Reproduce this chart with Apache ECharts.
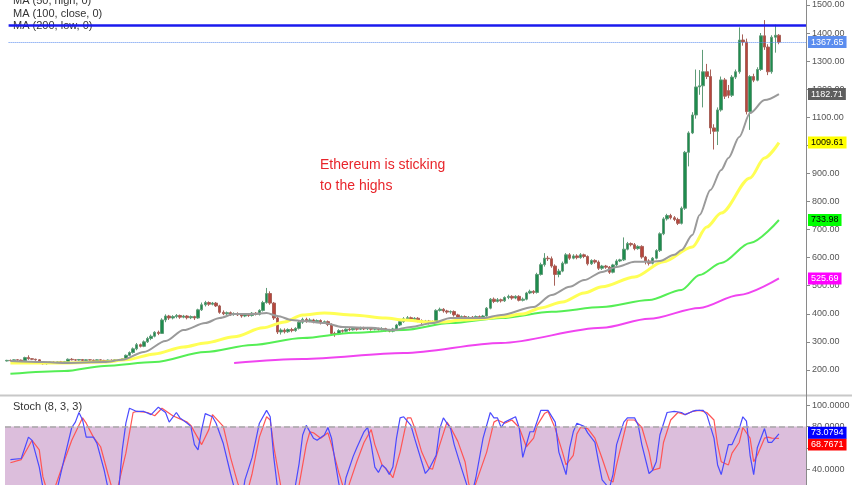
<!DOCTYPE html>
<html lang="en">
<head>
    <meta charset="UTF-8">
    <title>Ethereum is sticking to the highs</title>
    <script src="https://cdn.jsdelivr.net/npm/echarts@6/dist/echarts.min.js"></script>
    <style>html, body { margin: 0; padding: 0; background: #fff; }</style>
</head>
<body>
<div id="chart" style="width: 852px; height: 485px;"></div>
<script>
    // daily candles, [open, close, low, high]
    var candles = [
        [232,234,230,236],[234,233,231,237],[233,236,231,238],[236,235,233,238],[235,233,231,237],
        [233,244,232,247],[244,240,236,252],[240,238,235,242],[238,236,233,240],[236,229,226,238],
        [229,222,219,231],[222,226,219,229],[226,228,223,230],[228,226,224,231],[226,229,224,231],
        [229,227,225,232],[227,230,225,232],[230,238,228,241],[238,236,234,242],[236,235,232,238],
        [235,237,233,239],[237,234,232,239],[234,236,232,238],[236,235,233,238],[235,233,231,237],
        [233,236,231,238],[236,234,232,238],[234,232,230,236],[232,235,230,237],[235,233,231,237],
        [233,236,231,238],[236,234,232,238],[234,240,232,242],[240,252,238,255],[252,262,249,266],
        [262,275,258,280],[275,290,270,296],[290,284,280,294],[284,300,281,305],[300,312,296,318],
        [312,320,306,326],[320,334,316,338],[334,330,324,340],[330,378,328,384],[378,392,370,398],
        [392,385,378,396],[385,390,380,395],[390,394,384,399],[394,388,382,397],[388,392,384,396],
        [392,386,380,395],[386,390,381,394],[390,385,378,393],[385,414,382,418],[414,432,410,440],
        [432,440,426,446],[440,434,428,444],[434,438,430,442],[438,428,424,442],[428,405,400,432],
        [405,400,395,412],[400,404,396,408],[404,398,392,408],[398,401,393,405],[401,396,392,405],
        [396,392,386,400],[392,397,388,402],[397,394,389,400],[394,402,390,406],[402,398,394,406],
        [398,412,394,416],[412,440,408,446],[440,472,436,492],[472,438,432,480],[438,385,378,442],
        [385,335,328,390],[335,342,326,348],[342,336,330,348],[336,344,332,348],[344,340,334,350],
        [340,348,336,352],[348,370,344,374],[370,380,364,386],[380,374,368,386],[374,378,370,384],
        [378,372,366,382],[372,376,368,380],[376,368,362,380],[368,372,364,376],[372,362,356,376],
        [362,330,322,366],[330,328,318,336],[328,340,324,345],[340,338,332,344],[338,345,334,348],
        [345,343,338,350],[343,348,340,352],[348,345,340,352],[345,350,342,354],[350,346,342,354],
        [346,349,342,353],[349,345,340,352],[345,348,341,352],[348,344,340,350],[344,347,340,352],
        [347,342,336,350],[342,338,334,346],[338,346,334,350],[346,360,342,364],[360,372,356,376],
        [372,382,368,388],[382,386,376,392],[386,380,374,390],[380,384,376,388],[384,376,370,388],
        [376,370,364,380],[370,374,366,378],[374,368,362,378],[368,372,364,376],[372,412,370,416],
        [412,416,408,422],[416,410,404,420],[410,406,400,414],[406,408,400,412],[408,396,390,412],
        [396,386,380,400],[386,390,382,394],[390,384,378,394],[384,388,380,392],[388,385,380,392],
        [385,390,381,394],[390,386,382,394],[386,392,382,396],[392,420,390,424],[420,452,416,456],
        [452,444,438,458],[444,450,440,456],[450,446,440,454],[446,458,442,462],[458,462,452,468],
        [462,456,450,466],[456,462,452,466],[462,448,444,466],[448,452,444,458],[452,474,448,478],
        [474,480,470,486],[480,476,470,484],[476,540,472,546],[540,575,536,582],[575,598,568,616],
        [598,596,588,606],[596,570,564,604],[570,540,500,576],[540,552,530,560],[552,580,548,586],
        [580,610,576,616],[610,598,592,616],[598,606,594,612],[606,600,594,612],[600,610,596,616],
        [610,604,598,614],[604,578,572,608],[578,590,574,594],[590,584,578,594],[584,562,556,590],
        [562,570,556,574],[570,566,560,574],[566,548,542,570],[548,574,544,578],[574,588,570,594],
        [588,592,584,596],[592,630,588,672],[630,650,626,656],[650,646,640,654],[646,632,626,652],
        [632,640,628,644],[640,602,596,644],[602,588,576,606],[588,580,572,594],[580,598,576,602],
        [598,625,594,630],[625,685,620,690],[685,738,680,744],[738,750,732,756],[750,742,736,756],
        [742,736,730,748],[736,722,716,742],[722,776,718,782],[776,975,770,980],[975,1044,925,1050],
        [1044,1108,1040,1118],[1108,1208,1095,1270],[1208,1212,1180,1268],[1212,1262,1135,1340],[1262,1245,1236,1290],
        [1245,1062,1040,1270],[1062,1050,985,1075],[1050,1126,1001,1135],[1126,1233,1120,1245],[1233,1175,1165,1240],
        [1195,1178,1168,1215],[1178,1243,1172,1250],[1243,1262,1236,1270],[1262,1375,1255,1420],[1375,1368,1355,1395],
        [1368,1120,1110,1380],[1120,1245,1055,1250],[1245,1232,1225,1255],[1232,1270,1228,1278],[1270,1390,1265,1400],
        [1390,1350,1340,1446],[1350,1262,1250,1360],[1262,1385,1255,1392],[1385,1392,1330,1430],[1392,1367.65,1360,1396]
    ];
    var slotCount = 222;   // candles plus empty space on the right

    // moving averages, [candle index, value]
    var maGray = [[1,232],[10,228],[16,225],[27,228],[32,236],[38,264],[44,303],[49,342],[55,367],[59,385],
        [63,399],[68,399],[72,403],[75,392],[79,378],[82,374],[88,367],[93,353],[101,350],[107,342],
        [112,353],[118,367],[123,385],[132,385],[137,396],[146,424],[151,467],[156,496],[160,520],[165,549],
        [169,567],[174,585],[178,585],[181,588],[185,610],[187,627],[190,681],[192,752],[195,841],[198,912],
        [200,955],[203,1030],[206,1115],[210,1161],[214,1182.71]];
    var maYellow = [[1,225],[16,225],[27,228],[33,236],[41,257],[49,282],[55,296],[63,318],[71,350],[77,371],
        [82,396],[88,403],[96,396],[105,385],[110,378],[117,371],[121,371],[126,378],[132,382],[137,389],
        [143,399],[148,421],[154,442],[160,474],[165,496],[174,531],[182,585],[190,638],[194,709],[198,759],
        [206,884],[210,955],[214,1009.61]];
    var maGreen = [[1,186],[16,196],[27,214],[41,228],[55,264],[68,289],[82,314],[96,332],[110,342],[123,367],
        [137,385],[151,407],[165,424],[178,449],[187,485],[192,538],[198,581],[206,652],[214,733.98]];
    var maMagenta = [[63,225],[82,239],[110,260],[137,296],[165,350],[178,382],[192,421],[203,467],[214,525.69]];

    var resistance = 1428;

    // stochastic (8, 3, 3)
    var stochK = [[1,49],[4,50],[6,70],[7,67],[9,42],[10,23],[12,8],[14,22],[16,51],[18,79],[19,84],[20,93],
        [21,86],[22,70],[24,70],[25,64],[27,39],[28,23],[30,8],[31,20],[32,58],[33,83],[34,97],[36,94],[38,94],
        [40,91],[42,98],[44,93],[45,84],[47,93],[48,88],[50,83],[51,80],[52,63],[53,58],[54,77],[55,92],[57,89],
        [58,83],[60,64],[62,36],[63,23],[65,8],[66,30],[68,51],[70,83],[72,95],[73,89],[74,51],[75,23],[77,5],
        [80,25],[81,45],[82,72],[83,81],[85,69],[86,67],[88,72],[89,79],[90,69],[91,47],[92,27],[93,10],[94,32],
        [96,52],[97,60],[99,75],[100,79],[101,63],[102,42],[103,37],[104,44],[105,41],[106,35],[107,42],[108,69],
        [109,88],[110,89],[112,81],[113,69],[115,47],[116,36],[117,40],[119,53],[120,78],[121,88],[123,78],[124,63],
        [126,41],[128,20],[129,18],[130,32],[132,69],[134,93],[135,88],[136,88],[137,79],[138,84],[141,89],[142,79],
        [143,51],[145,75],[146,75],[148,95],[150,95],[152,84],[153,56],[155,35],[156,60],[157,75],[158,83],[160,80],
        [161,74],[163,65],[164,47],[165,30],[167,22],[168,35],[169,63],[171,84],[172,88],[174,88],[175,81],[176,63],
        [178,36],[179,39],[180,47],[181,72],[183,93],[185,94],[187,93],[188,91],[190,94],[191,95],[193,95],[194,91],
        [196,69],[197,44],[198,35],[199,49],[200,63],[201,63],[203,78],[204,89],[205,85],[206,53],[207,35],[208,60],
        [210,78],[211,65],[212,65],[214,73.0794]];
    var stochD = [[1,46],[4,49],[7,67],[9,58],[10,33],[12,10],[15,39],[18,67],[21,88],[22,83],[24,70],[26,61],
        [28,36],[30,12],[33,55],[35,93],[36,94],[39,93],[41,90],[43,97],[46,90],[50,84],[51,81],[54,63],[56,77],
        [57,91],[60,80],[62,51],[64,27],[66,10],[68,36],[70,70],[72,89],[73,86],[74,61],[76,23],[78,8],[81,25],
        [83,63],[84,75],[85,74],[87,69],[89,74],[90,63],[92,37],[94,15],[95,27],[97,47],[99,65],[101,77],[102,63],
        [104,44],[106,37],[107,32],[109,56],[111,88],[112,88],[113,79],[115,56],[117,41],[118,40],[120,63],[122,84],
        [123,79],[125,66],[127,47],[128,27],[129,15],[130,27],[133,56],[135,84],[136,86],[138,83],[140,86],[142,79],
        [144,61],[146,69],[147,81],[149,92],[150,94],[152,78],[154,56],[155,44],[157,53],[158,73],[159,79],[161,78],
        [163,69],[165,50],[167,30],[168,28],[169,44],[171,72],[172,86],[174,86],[176,79],[178,56],[179,39],[181,41],
        [182,65],[184,86],[186,93],[188,91],[190,94],[192,95],[194,93],[196,86],[197,63],[198,47],[200,44],[201,55],
        [203,65],[204,79],[206,69],[207,47],[208,53],[210,69],[211,70],[212,69],[214,68.7671]];

    var slots = [];
    for (var i = 0; i < slotCount; i++) slots.push(String(i));
    var lastClose = candles[candles.length - 1][1];
    var last = function (arr) { return arr[arr.length - 1][1]; };
    var font = 'Liberation Sans, Arial, sans-serif';

    function sideLabel(value, bg, fg, digits, offsetY) {
        return {
            show: true, position: 'end', distance: 2,
            formatter: value.toFixed(digits),
            backgroundColor: bg, color: fg, fontSize: 9, fontFamily: font,
            padding: [2, 3, 1, 3], offset: [0, offsetY || 0]
        };
    }
    function endTag(value, bg, fg) {
        return {
            symbol: 'none', silent: true, animation: false,
            lineStyle: { color: 'rgba(0,0,0,0)' },
            data: [{ yAxis: value, label: sideLabel(value, bg, fg, 2) }]
        };
    }

    var chart = echarts.init(document.getElementById('chart'));
    chart.setOption({
        animation: false,
        backgroundColor: '#fff',
        textStyle: { fontFamily: font },
        grid: [
            { left: 5, right: 46, top: 0, bottom: 87, outerBoundsMode: 'none' },
            { left: 5, right: 46, top: 397, bottom: -5.6, outerBoundsMode: 'none' }
        ],
        xAxis: [
            { type: 'category', gridIndex: 0, data: slots, boundaryGap: true, show: false },
            { type: 'value', gridIndex: 0, min: -0.5, max: slotCount - 0.5, show: false },
            { type: 'value', gridIndex: 1, min: -0.5, max: slotCount - 0.5, show: false }
        ],
        yAxis: [
            {
                type: 'value', gridIndex: 0, position: 'right', min: 100, max: 1517.6, interval: 100,
                splitLine: { show: false },
                axisLine: { show: true, onZero: false, lineStyle: { color: '#8a8a8a' } },
                axisTick: { show: true, length: 4, lineStyle: { color: '#8a8a8a' } },
                axisLabel: {
                    color: '#555', fontSize: 9, margin: 6, showMinLabel: false, showMaxLabel: false,
                    formatter: function (v) { return v.toFixed(2); }
                }
            },
            {
                type: 'value', gridIndex: 1, position: 'right', min: 20, max: 107.5, interval: 20,
                splitLine: { show: false },
                axisLine: { show: true, onZero: false, lineStyle: { color: '#8a8a8a' } },
                axisTick: { show: true, length: 4, lineStyle: { color: '#8a8a8a' } },
                axisLabel: {
                    color: '#555', fontSize: 9, margin: 6, showMinLabel: false, showMaxLabel: false,
                    formatter: function (v) { return v.toFixed(4); }
                }
            }
        ],
        graphic: [
            { type: 'text', left: 13, top: -5, style: { text: 'MA (50, high, 0)', fontSize: 11, fill: '#333', fontFamily: font } },
            { type: 'text', left: 13, top: 8, style: { text: 'MA (100, close, 0)', fontSize: 11, fill: '#333', fontFamily: font } },
            { type: 'text', left: 13, top: 20, style: { text: 'MA (200, low, 0)', fontSize: 11, fill: '#333', fontFamily: font } },
            { type: 'text', left: 320, top: 155, style: {
                text: 'Ethereum is sticking\nto the highs', fontSize: 14, lineHeight: 21,
                fill: '#e8252b', fontFamily: font } },
            { type: 'line', shape: { x1: 0, y1: 395.5, x2: 852, y2: 395.5 }, style: { stroke: '#c8c8c8', lineWidth: 2 } },
            { type: 'text', left: 13, top: 401, style: { text: 'Stoch (8, 3, 3)', fontSize: 11, fill: '#333', fontFamily: font } }
        ],
        series: [
            {
                type: 'candlestick', xAxisIndex: 0, yAxisIndex: 0, data: candles, barWidth: 3,
                itemStyle: {
                    color: '#1e8c4e', color0: '#b8463c',
                    borderColor: '#5f9c78', borderColor0: '#a8625a', borderWidth: 1
                }
            },
            {
                type: 'line', name: 'ma200', xAxisIndex: 1, yAxisIndex: 0, data: maMagenta,
                showSymbol: false, smooth: 0.3, smoothMonotone: 'x',
                lineStyle: { color: '#f044f0', width: 2 },
                markLine: endTag(last(maMagenta), '#ff00ff', '#fff')
            },
            {
                type: 'line', name: 'ma100', xAxisIndex: 1, yAxisIndex: 0, data: maGreen,
                showSymbol: false, smooth: 0.3, smoothMonotone: 'x',
                lineStyle: { color: '#55ee55', width: 2 },
                markLine: endTag(last(maGreen), '#00ff00', '#000')
            },
            {
                type: 'line', name: 'ma50', xAxisIndex: 1, yAxisIndex: 0, data: maYellow,
                showSymbol: false, smooth: 0.3, smoothMonotone: 'x',
                lineStyle: { color: '#ffff55', width: 3 },
                markLine: endTag(last(maYellow), '#ffff00', '#000')
            },
            {
                type: 'line', name: 'ma20', xAxisIndex: 1, yAxisIndex: 0, data: maGray,
                showSymbol: false, smooth: 0.3, smoothMonotone: 'x',
                lineStyle: { color: '#9a9a9a', width: 2 },
                markLine: endTag(last(maGray), '#5e5e5e', '#fff')
            },
            {
                type: 'line', name: 'levels', xAxisIndex: 1, yAxisIndex: 0, data: [],
                markLine: {
                    symbol: 'none', silent: true, animation: false,
                    data: [
                        [{ coord: [0.5, resistance], lineStyle: { color: '#1a1aee', width: 2.5, type: 'solid' }, label: { show: false } },
                         { coord: [slotCount - 0.5, resistance] }],
                        [{ coord: [0.5, lastClose], lineStyle: { color: '#5b8def', width: 1, type: 'dotted' },
                           label: sideLabel(lastClose, '#5b8def', '#fff', 2) },
                         { coord: [slotCount - 0.5, lastClose] }]
                    ]
                }
            },
            {
                type: 'line', name: '%D', xAxisIndex: 2, yAxisIndex: 1, data: stochD,
                showSymbol: false, lineStyle: { color: '#ff5555', width: 1.2 },
                markArea: {
                    silent: true, itemStyle: { color: '#dcbedc' },
                    data: [[{ yAxis: 20 }, { yAxis: 80 }]]
                },
                markLine: {
                    symbol: 'none', silent: true, animation: false,
                    lineStyle: { color: 'rgba(0,0,0,0)' },
                    data: [{ yAxis: last(stochD), label: sideLabel(last(stochD), '#ff0000', '#fff', 4, 6) }]
                }
            },
            {
                type: 'line', name: '%K', xAxisIndex: 2, yAxisIndex: 1, data: stochK,
                showSymbol: false, lineStyle: { color: '#4a4aff', width: 1.2 },
                markLine: {
                    symbol: 'none', silent: true, animation: false,
                    data: [
                        { yAxis: 80, lineStyle: { color: '#a8a8a8', width: 1.5, type: 'dashed' }, label: { show: false } },
                        { yAxis: last(stochK), lineStyle: { color: 'rgba(0,0,0,0)' },
                          label: sideLabel(last(stochK), '#0000ff', '#fff', 4, -1) }
                    ]
                }
            }
        ]
    });
</script>
</body>
</html>
